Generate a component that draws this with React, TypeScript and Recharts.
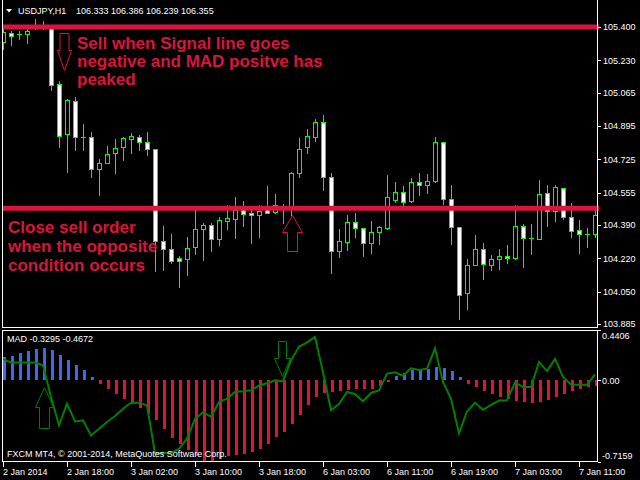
import React from 'react';
import { ComposedChart, Bar, Line, XAxis, YAxis, ReferenceLine, ReferenceDot } from 'recharts';

// ---------- data ----------
const opens = [105.325, 105.368, 105.363, 105.363, 105.4, 105.405, 105.4, 105.109, 104.854, 105.024, 104.841, 104.84, 104.674, 104.705, 104.756, 104.79, 104.83, 104.837, 104.815, 104.776, 104.31, 104.266, 104.22, 104.218, 104.276, 104.368, 104.388, 104.317, 104.412, 104.419, 104.47, 104.45, 104.44, 104.47, 104.456, 104.47, 104.475, 104.657, 104.79, 104.84, 104.914, 104.636, 104.259, 104.305, 104.404, 104.373, 104.297, 104.353, 104.376, 104.519, 104.557, 104.514, 104.608, 104.592, 104.616, 104.812, 104.524, 104.378, 104.041, 104.184, 104.266, 104.184, 104.215, 104.23, 104.22, 104.383, 104.325, 104.32, 104.552, 104.46, 104.577, 104.429, 104.363, 104.343, 104.343];
const highs = [105.4, 105.381, 105.38, 105.4, 105.44, 105.432, 105.405, 105.124, 105.035, 105.041, 104.904, 104.863, 104.725, 104.793, 104.827, 104.839, 104.858, 104.849, 104.866, 104.778, 104.385, 104.344, 104.232, 104.33, 104.466, 104.402, 104.402, 104.43, 104.492, 104.531, 104.514, 104.47, 104.49, 104.589, 104.548, 104.497, 104.662, 104.832, 104.878, 104.93, 104.951, 104.654, 104.368, 104.441, 104.45, 104.375, 104.41, 104.385, 104.645, 104.609, 104.589, 104.628, 104.655, 104.65, 104.84, 104.815, 104.594, 104.38, 104.217, 104.339, 104.296, 104.237, 104.268, 104.288, 104.492, 104.395, 104.395, 104.62, 104.594, 104.594, 104.578, 104.5, 104.415, 104.376, 104.466];
const lows = [105.288, 105.308, 105.337, 105.32, 105.39, 105.392, 105.079, 104.79, 104.662, 104.772, 104.772, 104.636, 104.543, 104.705, 104.657, 104.722, 104.759, 104.772, 104.747, 104.157, 104.16, 104.198, 104.075, 104.135, 104.242, 104.211, 104.259, 104.288, 104.371, 104.322, 104.385, 104.296, 104.33, 104.456, 104.45, 104.398, 104.441, 104.636, 104.759, 104.82, 104.568, 104.147, 104.225, 104.262, 104.327, 104.233, 104.249, 104.291, 104.371, 104.509, 104.487, 104.509, 104.543, 104.555, 104.611, 104.497, 104.293, 103.912, 103.963, 104.184, 104.116, 104.16, 104.167, 104.198, 104.218, 104.177, 104.242, 104.32, 104.385, 104.412, 104.422, 104.33, 104.249, 104.279, 104.33];
const closes = [105.376, 105.354, 105.362, 105.381, 105.41, 105.4, 105.104, 104.844, 105.028, 104.84, 104.84, 104.674, 104.705, 104.751, 104.781, 104.832, 104.844, 104.815, 104.776, 104.308, 104.266, 104.208, 104.208, 104.271, 104.368, 104.388, 104.317, 104.415, 104.426, 104.466, 104.446, 104.44, 104.463, 104.453, 104.49, 104.478, 104.654, 104.776, 104.844, 104.915, 104.636, 104.259, 104.31, 104.404, 104.373, 104.297, 104.353, 104.378, 104.531, 104.557, 104.509, 104.608, 104.592, 104.614, 104.812, 104.524, 104.381, 104.034, 104.184, 104.266, 104.189, 104.215, 104.23, 104.22, 104.383, 104.322, 104.322, 104.547, 104.46, 104.582, 104.429, 104.358, 104.343, 104.342, 104.44];

const madHist = [0.2, 0.215, 0.24, 0.26, 0.27, 0.28, 0.262, 0.22, 0.176, 0.135, 0.088, 0.03, -0.035, -0.079, -0.123, -0.167, -0.205, -0.24, -0.284, -0.351, -0.43, -0.503, -0.562, -0.615, -0.66, -0.705, -0.716, -0.688, -0.667, -0.658, -0.644, -0.629, -0.606, -0.562, -0.5, -0.455, -0.38, -0.3, -0.22, -0.15, -0.111, -0.102, -0.094, -0.086, -0.08, -0.076, -0.072, -0.053, -0.017, 0.035, 0.062, 0.09, 0.098, 0.102, 0.117, 0.105, 0.08, 0.029, -0.032, -0.059, -0.095, -0.12, -0.149, -0.165, -0.182, -0.19, -0.199, -0.19, -0.176, -0.146, -0.12, -0.094, -0.078, -0.062, -0.05];
const madSignal = [0.185, 0.155, 0.155, 0.155, 0.155, 0.132, -0.146, -0.395, -0.205, -0.36, -0.351, -0.483, -0.424, -0.366, -0.313, -0.249, -0.196, -0.196, -0.22, -0.638, -0.638, -0.638, -0.6, -0.512, -0.337, -0.28, -0.32, -0.19, -0.161, -0.1, -0.097, -0.088, -0.044, -0.026, 0.0, -0.008, 0.175, 0.293, 0.332, 0.38, 0.07, -0.263, -0.208, -0.102, -0.12, -0.184, -0.111, -0.088, 0.059, 0.07, 0.04, 0.105, 0.091, 0.102, 0.278, -0.015, -0.161, -0.465, -0.273, -0.195, -0.258, -0.215, -0.178, -0.176, -0.019, -0.059, -0.059, 0.161, 0.08, 0.187, 0.029, -0.037, -0.038, -0.038, 0.052];

const priceTicks = [105.4, 105.23, 105.065, 104.895, 104.725, 104.555, 104.39, 104.22, 104.05, 103.885];
const priceDomain = [103.8697, 105.5377];
const madTicks = [0.4406, 0, -0.7159];
const madDomain = [-0.7159, 0.4406];
const timeTickBars = [0, 8, 16, 24, 32, 40, 48, 56, 64, 72];
const timeTickLabels = ['2 Jan 2014', '2 Jan 18:00', '3 Jan 02:00', '3 Jan 10:00', '3 Jan 18:00', '6 Jan 03:00', '6 Jan 11:00', '6 Jan 19:00', '7 Jan 03:00', '7 Jan 11:00'];
const levelLines = [105.4, 104.475];

const headerSymbol = 'USDJPY,H1';
const headerPrices = '106.333 106.386 106.239 106.355';
const madLabel = 'MAD -0.3295 -0.4672';
const copyright = 'FXCM MT4, \u00A9 2001-2014, MetaQuotes Software Corp.';
const sellNote = ['Sell when Signal line goes', 'negative and MAD positve has', 'peaked'];
const closeNote = ['Close sell order', 'when the opposite', 'condition occurs'];

const data = opens.map((o, i) => ({
  idx: i,
  open: o,
  high: highs[i],
  low: lows[i],
  close: closes[i],
  range: [lows[i], highs[i]],
  mad: madHist[i],
  signal: madSignal[i],
}));

// ---------- styles ----------
const CRIMSON = '#DC143C';
const LIME = '#00FF00';
const BLUE = '#4169E1';
const GREEN = '#008000';
const FONT = '"Liberation Sans", Arial, sans-serif';

// ---------- shapes ----------
const Candle = (props: any) => {
  const { x, y, width, height, payload } = props;
  if (x == null || y == null || !payload) return null;
  const { open, close, high, low } = payload;
  const top = Math.min(y, y + height);
  const h = Math.abs(height);
  const span = high - low;
  const toY = (v: number) => (span > 0 ? top + ((high - v) / span) * h : top);
  const cx = Math.floor(x + width / 2) + 0.5;
  const yH = Math.round(toY(high));
  const yL = Math.round(toY(low));
  const bTop = Math.round(Math.min(toY(open), toY(close)));
  const bBot = Math.round(Math.max(toY(open), toY(close)));
  const bull = close >= open;
  return (
    <g>
      <line x1={cx} x2={cx} y1={yH} y2={yL + 1} stroke={LIME} strokeWidth={1} />
      {bBot - bTop < 1 ? (
        <line x1={cx - 2.5} x2={cx + 2.5} y1={bTop + 0.5} y2={bTop + 0.5} stroke={LIME} strokeWidth={1} />
      ) : (
        <rect x={cx - 2} y={bTop + 0.5} width={4} height={bBot - bTop} fill={bull ? '#000' : '#fff'} stroke={LIME} strokeWidth={1} />
      )}
    </g>
  );
};

const HistBar = (props: any) => {
  const { x, y, width, height, payload } = props;
  if (x == null || y == null || !payload) return null;
  const c = Math.round(x + width / 2);
  const top = Math.round(Math.min(y, y + height));
  const bot = Math.round(Math.max(y, y + height));
  return <rect x={c - 1} y={top} width={3} height={Math.max(1, bot - top)} fill={payload.mad >= 0 ? BLUE : CRIMSON} />;
};

const Arrow = (props: any) => {
  const { cx, cy, dx, dir, headH, headW, shaftW, len, color } = props;
  if (cx == null || cy == null) return null;
  const s = dir === 'down' ? -1 : 1;
  const x0 = Math.floor(cx + dx) + 0.5;
  const y0 = Math.round(cy) + 0.5;
  const pts = [
    [x0, y0],
    [x0 - headW, y0 + s * headH],
    [x0 - shaftW, y0 + s * headH],
    [x0 - shaftW, y0 + s * len],
    [x0 + shaftW, y0 + s * len],
    [x0 + shaftW, y0 + s * headH],
    [x0 + headW, y0 + s * headH],
  ];
  return <polygon points={pts.map((p) => p.join(',')).join(' ')} fill="none" stroke={color} strokeWidth={1} />;
};

const PriceTick = (props: any) => {
  const { x, y, payload } = props;
  const yy = Math.round(y) + 0.5;
  return (
    <g>
      <line x1={x - 1} x2={x + 2} y1={yy} y2={yy} stroke="#fff" strokeWidth={1} />
      <text x={x + 4} y={y + 3.3} fill="#fff" fontSize={9} fontFamily={FONT}>
        {Number(payload.value).toFixed(3)}
      </text>
    </g>
  );
};

const MadTick = (props: any) => {
  const { x, y, payload } = props;
  const v = Number(payload.value);
  const off = v === madDomain[1] ? 6 : v === madDomain[0] ? -6.5 : 0;
  const yy = Math.round(y) + 0.5;
  const label = v === 0 ? '0.00' : v.toFixed(4);
  return (
    <g>
      <line x1={x - 1} x2={x + 2} y1={yy} y2={yy} stroke="#fff" strokeWidth={1} />
      <text x={x + 3} y={y + off + 3.3} fill="#fff" fontSize={9} fontFamily={FONT}>
        {label}
      </text>
    </g>
  );
};

const TimeTick = (props: any) => {
  const { x, y, payload } = props;
  const k = timeTickBars.indexOf(Number(payload.value));
  return (
    <g>
      <line x1={x + 0.5} x2={x + 0.5} y1={y} y2={y + 5} stroke="#fff" strokeWidth={1} />
      <text x={x} y={y + 13} fill="#fff" fontSize={9} fontFamily={FONT}>
        {k >= 0 ? timeTickLabels[k] : ''}
      </text>
    </g>
  );
};

export default function App() {
  return (
    <div style={{ position: 'fixed', left: 0, top: 0, width: 640, height: 480, background: '#000', overflow: 'hidden' }}>
      {/* main price panel */}
      <div style={{ position: 'absolute', left: 3, top: 0, width: 637, height: 330, overflow: 'hidden' }}>
        <div style={{ position: 'absolute', left: -4, top: 0 }}>
          <ComposedChart width={642} height={330} data={data} margin={{ top: 0, right: 0, bottom: 3, left: 0 }}>
            <XAxis dataKey="idx" type="category" hide />
            <YAxis
              orientation="right"
              width={42}
              domain={priceDomain}
              allowDataOverflow
              ticks={priceTicks}
              interval={0}
              tickSize={0}
              tickMargin={0}
              axisLine={false}
              tickLine={false}
              tick={<PriceTick />}
            />
            <Bar dataKey="range" barSize={5} isAnimationActive={false} shape={(p: any) => <Candle {...p} />} />
            {levelLines.map((v) => (
              <ReferenceLine key={v} y={v} stroke={CRIMSON} strokeWidth={5} />
            ))}
            <ReferenceDot
              x={8}
              y={105.1806}
              r={0}
              shape={(p: any) => <Arrow {...p} dx={-3} dir="down" headH={20} headW={7} shaftW={4.5} len={37} color={CRIMSON} />}
            />
            <ReferenceDot
              x={36}
              y={104.441}
              r={0}
              shape={(p: any) => <Arrow {...p} dx={1.5} dir="up" headH={17} headW={10} shaftW={5} len={36} color={CRIMSON} />}
            />
          </ComposedChart>
        </div>
      </div>

      {/* MAD panel */}
      <div style={{ position: 'absolute', left: 3, top: 330, width: 637, height: 150, overflow: 'hidden' }}>
        <div style={{ position: 'absolute', left: -4, top: 0 }}>
          <ComposedChart width={642} height={150} data={data} margin={{ top: 0, right: 0, bottom: 0, left: 0 }}>
            <XAxis
              dataKey="idx"
              type="category"
              height={18}
              ticks={timeTickBars}
              interval={0}
              tickSize={0}
              tickMargin={0}
              axisLine={false}
              tickLine={false}
              tick={<TimeTick />}
            />
            <YAxis
              orientation="right"
              width={42}
              domain={madDomain}
              allowDataOverflow
              ticks={madTicks}
              interval={0}
              tickSize={0}
              tickMargin={0}
              axisLine={false}
              tickLine={false}
              tick={<MadTick />}
            />
            <Bar dataKey="mad" barSize={3} isAnimationActive={false} shape={(p: any) => <HistBar {...p} />} />
            <Line dataKey="signal" type="linear" stroke={GREEN} strokeWidth={2} dot={false} isAnimationActive={false} />
            <ReferenceDot
              x={5}
              y={-0.0614}
              r={0}
              shape={(p: any) => <Arrow {...p} dx={1.5} dir="up" headH={20} headW={9} shaftW={5} len={41} color={GREEN} />}
            />
            <ReferenceDot
              x={35}
              y={0.0376}
              r={0}
              shape={(p: any) => <Arrow {...p} dx={-0.5} dir="down" headH={18} headW={8} shaftW={4} len={35} color={GREEN} />}
            />
          </ComposedChart>
        </div>
      </div>

      {/* frame and text overlay */}
      <svg width={640} height={480} style={{ position: 'absolute', left: 0, top: 0, pointerEvents: 'none' }}>
        <g stroke="#fff" strokeWidth={1} fill="none">
          <line x1={2.5} y1={0} x2={2.5} y2={327.5} />
          <line x1={2} y1={327.5} x2={598} y2={327.5} />
          <line x1={597.5} y1={0} x2={597.5} y2={327.5} />
          <line x1={2} y1={330.5} x2={598} y2={330.5} />
          <line x1={2.5} y1={330} x2={2.5} y2={462} />
          <line x1={2} y1={461.5} x2={598} y2={461.5} />
          <line x1={597.5} y1={330} x2={597.5} y2={462} />
        </g>
        <polygon points="6,9 12,9 9,12.5" fill="#fff" />
        <text x={18} y={14} fill="#fff" fontSize={9} fontFamily={FONT}>{headerSymbol}</text>
        <text x={76} y={14} fill="#fff" fontSize={9} fontFamily={FONT}>{headerPrices}</text>
        <g fill={CRIMSON} fontSize={17} fontWeight="bold" fontFamily={FONT}>
          {sellNote.map((t, i) => (
            <text key={t} x={77} y={49 + i * 18}>{t}</text>
          ))}
          {closeNote.map((t, i) => (
            <text key={t} x={8} y={233 + i * 19}>{t}</text>
          ))}
        </g>
        <text x={7} y={342} fill="#fff" fontSize={9} fontFamily={FONT}>{madLabel}</text>
        <text x={7} y={457} fill="#fff" fontSize={9} fontFamily={FONT}>{copyright}</text>
      </svg>
    </div>
  );
}
